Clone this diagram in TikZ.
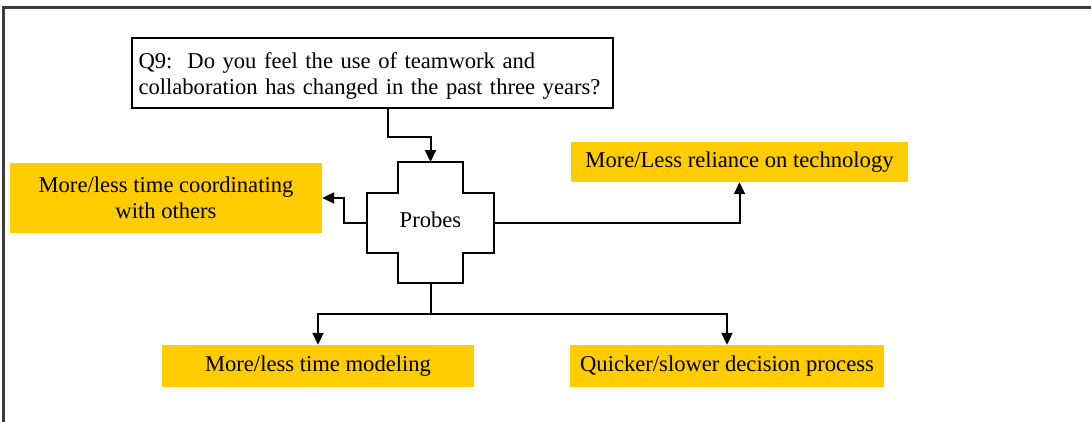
\documentclass[tikz,border=0pt]{standalone}
\usepackage{fontspec}
\setmainfont{Liberation Serif}
\usetikzlibrary{arrows.meta}
\definecolor{gold}{RGB}{255,204,0}
\definecolor{frame}{RGB}{60,60,60}
\tikzset{
  probe/.style={fill=gold, inner sep=0pt, align=center, text=black},
  conn/.style={line width=2pt, black},
  arr/.style={conn, -{Triangle[length=12pt,width=11pt]}},
}
\begin{document}
\begin{tikzpicture}[x=1pt, y=-1pt, font=\fontsize{22.6}{25.5}\selectfont]
\useasboundingbox (0,0) rectangle (1091,421);
% outer frame
\draw[line width=3pt, frame] (3,440) -- (3,7) -- (1120,7);

% question box
\node[draw, conn, anchor=north west, minimum width=481pt, minimum height=70pt,
      text width=468pt, inner sep=6pt, align=left] (q) at (131,37)
  {\rule{0pt}{22pt}Q9:\ \ Do you feel the use of teamwork and\\collaboration has changed in the past three years?};

% central cross
\coordinate (crossT) at (430.5,162);
\coordinate (crossB) at (430.5,283);
\coordinate (crossL) at (367,223);
\coordinate (crossR) at (494,223);
\draw[conn, line join=miter] (398,162) -- (463,162) -- (463,193) -- (494,193) -- (494,253)
  -- (463,253) -- (463,283) -- (398,283) -- (398,253) -- (367,253) -- (367,193)
  -- (398,193) -- cycle;
\node (probes) at (430.5,220) {Probes};

% outcome boxes
\node[probe, minimum width=312pt, minimum height=70pt] (coord) at (166,198)
  {More/less time coordinating\\with others};
\node[probe, minimum width=337pt, minimum height=40pt] (tech) at (739.5,162)
  {More/Less reliance on technology};
\node[probe, minimum width=312pt, minimum height=42pt] (model) at (318,366)
  {More/less time modeling};
\node[probe, minimum width=314pt, minimum height=42pt] (decide) at (727,366)
  {Quicker/slower decision process};

% connectors
\draw[arr] ([xshift=15.5pt]q.south) -- ++(0,28) -| (crossT);
\draw[arr] (crossL) -- ++(-23,0) |- (coord.east);
\draw[arr] (crossR) -| (tech.south);
\draw[conn] (crossB) -- ++(0,31) coordinate (split);
\draw[arr] (split) -| (model.north);
\draw[arr] (split) -| (decide.north);
\end{tikzpicture}
\end{document}
